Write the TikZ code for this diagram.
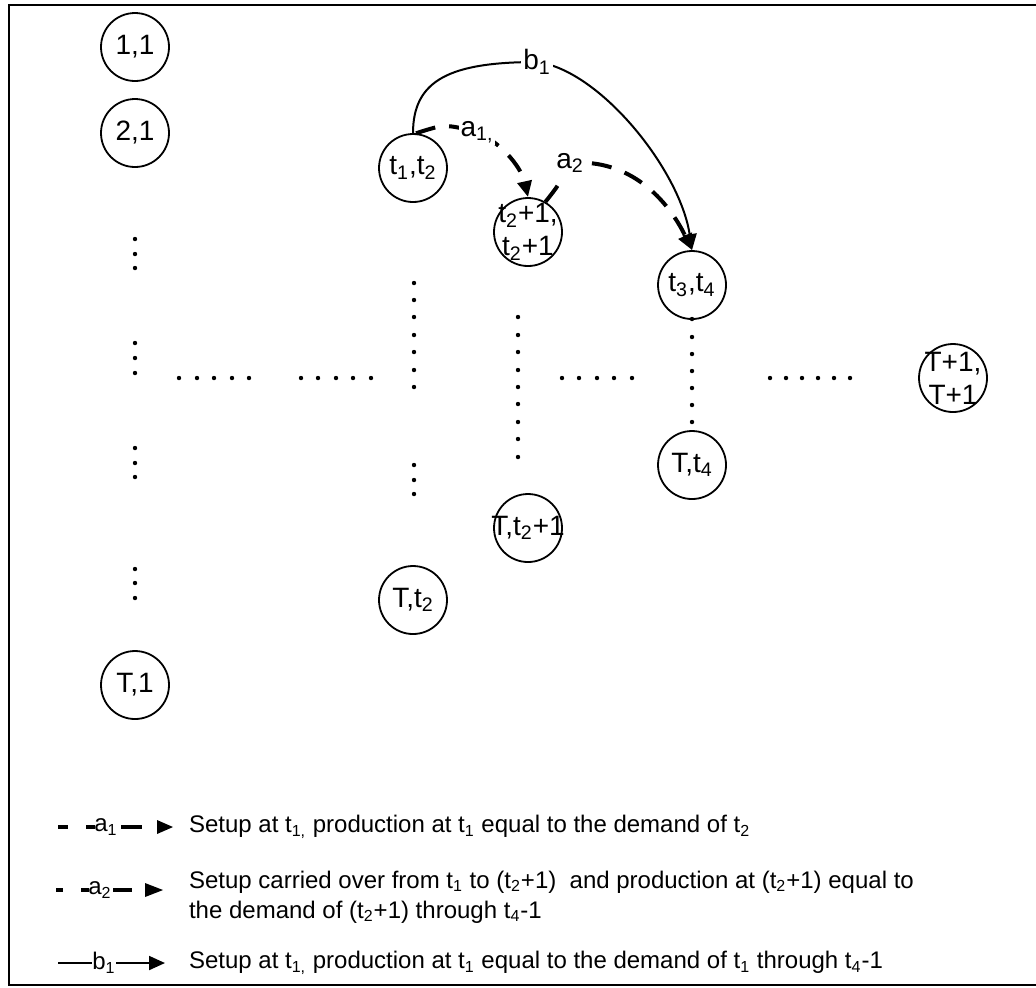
\documentclass[tikz,border=0pt]{standalone}
\usepackage{fontspec}
\setmainfont{Liberation Sans}
\usetikzlibrary{arrows.meta}
\newcommand{\ts}[1]{\textsubscript{#1}}
\begin{document}
\begin{tikzpicture}[x=0.5pt, y=-0.5pt,
    font=\fontsize{12pt}{14pt}\selectfont,
    state/.style={circle, draw, line width=0.9pt, minimum size=34pt, inner sep=0pt,
      font=\fontsize{14pt}{16.5pt}\selectfont},
    twoline/.style={align=center, inner sep=-8pt},
    onarc/.style={fill=white, inner sep=1pt, font=\fontsize{14pt}{16pt}\selectfont},
    setuparc/.style={line width=1pt, -{Triangle[length=8pt, width=7pt]}},
    carryarc/.style={line width=2pt, dash pattern=on 10pt off 7pt, -{Triangle[length=8pt, width=7pt]}},
    dot/.style={fill=black}]
  \useasboundingbox (0,0) rectangle (1036,987);
  \draw[line width=1.2pt] (1036,5) -- (9,5) -- (9,985) -- (1036,985);

  % states (period, last demand covered)
  \node[state] (n11) at (135,47) {1,1};
  \node[state] (n21) at (135,133) {2,1};
  \node[state] (T1) at (135,685) {T,1};
  \node[state] (t1t2) at (413,168) {t\ts{1},t\ts{2}};
  \node[state] (Tt2) at (413,600) {T,t\ts{2}};
  \node[state, twoline] (t2p) at (528,232) {t\ts{2}+1,\\t\ts{2}+1};
  \node[state, inner sep=-8pt] (Tt2p) at (528,528) {T,t\ts{2}+1};
  \node[state] (t3t4) at (692,285) {t\ts{3},t\ts{4}};
  \node[state] (Tt4) at (692,465) {T,t\ts{4}};
  \node[state, twoline] (TT) at (953,378) {T+1,\\T+1};

  % dots
  \foreach \y in {239,254,268,343,358,373,448,463,477,569,583,598}
    \fill[dot] (135,\y) circle[radius=1.1pt];
  \foreach \x in {179,197,214,232,249,301,318,336,353,371,562,579,597,614,632,770,786,802,818,834,850}
    \fill[dot] (\x,378) circle[radius=1.1pt];
  \foreach \y in {283,300,317,335,352,370,387,465,480,494}
    \fill[dot] (414,\y) circle[radius=1.1pt];
  \foreach \y in {317,335,352,370,387,404,422,439,457}
    \fill[dot] (518,\y) circle[radius=1.1pt];
  \foreach \y in {319,337,354,371,388,405,422}
    \fill[dot] (692,\y) circle[radius=1.1pt];

  % arcs
  \draw[setuparc] (t1t2.north) .. controls (413,80) and (450,62) .. (537,62)
    node[onarc] {b\ts{1}} .. controls (600,70) and (680,170) .. (t3t4.north);
  \draw[carryarc] (t1t2.85) .. controls (445,124) .. (477,132)
    node[onarc] {a\ts{1,}} .. controls (505,145) and (522,170) .. (t2p.north);
  \draw[carryarc] (t2p.60) .. controls (558,186) .. (570,163)
    node[onarc] {a\ts{2}} .. controls (630,158) and (668,200) .. (t3t4.north);

  % legend
  \draw[line width=2pt] (58,827) -- (68,827) (86,827) -- (95,827) (121,827) -- (142,827);
  \node[inner sep=1pt] (la1) at (106,827) {a\ts{1}};
  \fill (157,820) -- (173,827) -- (157,834) -- cycle;
  \node[anchor=west] (ta1) at (182,827) {Setup at t\ts{1,} production at t\ts{1} equal to the demand of t\ts{2}};

  \draw[line width=2pt] (56,890) -- (63,890) (81,890) -- (89,890) (113,890) -- (132,890);
  \node[inner sep=1pt] (la2) at (100,890) {a\ts{2}};
  \fill (145,883) -- (163,890) -- (145,897) -- cycle;
  \node[anchor=west, align=left, font=\fontsize{12pt}{15pt}\selectfont] (ta2) at (182,897)
    {Setup carried over from t\ts{1} to (t\ts{2}+1)\ \ and production at (t\ts{2}+1) equal to\\
     the demand of (t\ts{2}+1) through t\ts{4}-1};

  \draw[line width=1pt] (58,963) -- (92,963);
  \draw[setuparc] (116,963) -- (165,963);
  \node[inner sep=1pt] (lb1) at (104,963) {b\ts{1}};
  \node[anchor=west] (tb1) at (182,963) {Setup at t\ts{1,} production at t\ts{1} equal to the demand of t\ts{1} through t\ts{4}-1};
\end{tikzpicture}
\end{document}
